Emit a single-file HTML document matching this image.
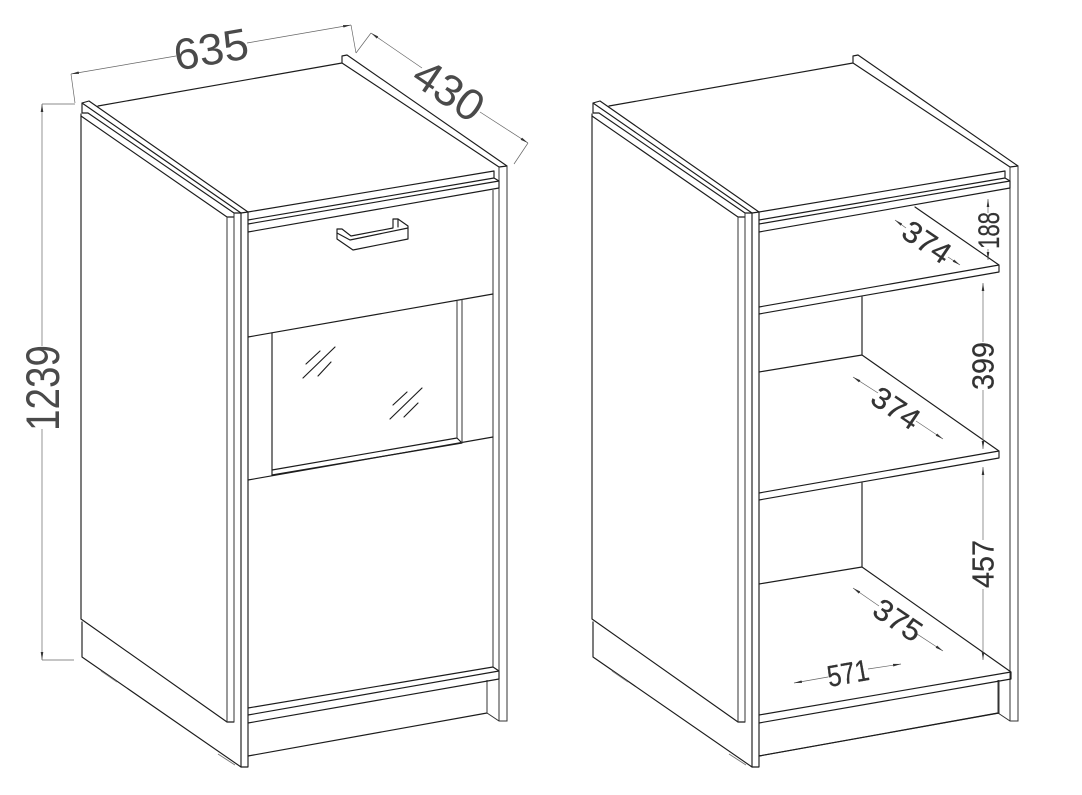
<!DOCTYPE html>
<html><head><meta charset="utf-8"><style>
html,body{margin:0;padding:0;background:#fff;width:1082px;height:795px;overflow:hidden}
svg{display:block}
.l{fill:none;stroke:#1c1c1c;stroke-width:1.15;stroke-linejoin:round;stroke-linecap:round}
.t{fill:none;stroke:#333;stroke-width:1}
.d{fill:none;stroke:#666;stroke-width:.7}
.k{fill:none;stroke:#666;stroke-width:.7}
text{font-family:"Liberation Sans",sans-serif;fill:#4a4a4a;text-anchor:middle}
text.s{fill:#333;stroke:#333;stroke-width:.25}
</style></head><body>
<svg width="1082" height="795" viewBox="0 0 1082 795" xmlns="http://www.w3.org/2000/svg">
<defs>
<marker id="a" viewBox="0 0 8 4" refX="8" refY="2" markerWidth="8" markerHeight="4" markerUnits="userSpaceOnUse" orient="auto-start-reverse"><path d="M8 2L0 0.7V3.3Z" fill="#333"/></marker>
<g id="shell">
<!-- top -->
<path class="l" d="M98 106L342 63"/>
<path class="l" d="M342 63V56L347 55L507 166L499 167L342 63"/>
<path class="l" d="M82 113V103L89 101L248 212L241 213L82 103"/>
<path class="l" d="M82 113L88 113L234 213L241 213"/>
<path class="l" d="M81 116L227 217L234 217"/>
<path class="l" d="M81 114V619L227 722H234"/>
<path class="t" d="M227 217V722M234 213V722"/>
<path class="l" d="M241 213V767H248V212"/>
<path class="t" d="M499 167V721M507 166V721H499L487 713"/>
<path class="l" d="M82 622V657L241 767"/>
<path class="l" d="M248 756L487 713"/>
<path class="t" d="M487 680V713"/>
<path fill="none" stroke="#777" stroke-width=".9" d="M101 671L117 682M218 754L235 765"/>
<!-- front strips -->
<path class="l" d="M248 212L494 171V178L499 181V188L248 232"/>
<path class="l" d="M248 220L494 178M248 224L499 181"/>
</g>
</defs>

<use href="#shell"/>
<use href="#shell" x="511"/>

<!-- left cabinet front -->
<path class="t" d="M493 190V667"/>
<path class="l" d="M248 337L493 294M248 480L493 437"/>
<path class="l" d="M272 333V475"/>
<path class="l" d="M272 470L457 438L462 443L272 475"/>
<path class="t" d="M457 301V438M462 299V443"/>
<path class="l" stroke-width=".9" d="M306 364L320 351M303 378L335 347M318 376L331 362M393 405L407 392M390 419L422 388M404 417L418 403"/>
<path class="l" d="M248 708L493 667L499 671V679L248 723M248 715L499 671"/>
<!-- handle -->
<path class="l" stroke-width="1" d="M337 229L342 229L351 236L393 228V219L398 219L408 226V239L353 250L337 239Z"/>
<path class="l" stroke-width="1" d="M337 233L350 240L408 228M398 219V227"/>

<!-- right cabinet interior -->
<path class="l" d="M915 207L999 265V272L759 314M759 307L999 265"/>
<path class="l" d="M862 297V355M759 372L862 355L999 451V458L759 500M759 493L999 451"/>
<path class="l" d="M862 483V567M759 584L862 567L1011 672V679L759 723M759 715L1011 672"/>
<path class="l" d="M759 756L999 713"/>
<path class="t" d="M999 680V713"/>

<!-- left dims -->
<path class="d" d="M71 74L75 103M351 25L356 53M371 33L356 53M528 143L514 164M42 104H75M42 660H74"/>
<path class="d" marker-start="url(#a)" d="M71 74L176 56"/>
<path class="d" marker-end="url(#a)" d="M247 43L351 25"/>
<path class="d" marker-start="url(#a)" d="M371 33L422 68"/>
<path class="d" marker-end="url(#a)" d="M480 112L528 143"/>
<path class="d" marker-start="url(#a)" d="M42 104V346"/>
<path class="d" marker-end="url(#a)" d="M42 429V660"/>
<text transform="translate(211 49) rotate(-10)" y="15.5" font-size="44" textLength="75" lengthAdjust="spacingAndGlyphs">635</text>
<text transform="translate(449 90) rotate(34)" y="15.5" font-size="44" textLength="75" lengthAdjust="spacingAndGlyphs">430</text>
<text transform="translate(42.5 388) rotate(-90)" y="16.5" font-size="47" textLength="86" lengthAdjust="spacingAndGlyphs">1239</text>

<!-- right dims -->
<path class="k" marker-start="url(#a)" d="M895 220L906 228"/>
<path class="k" marker-end="url(#a)" d="M948 257L960 265"/>
<text class="s" transform="translate(927 242) rotate(34)" y="10.5" font-size="30" textLength="52" lengthAdjust="spacingAndGlyphs">374</text>

<path class="k" marker-start="url(#a)" d="M988 199V213"/>
<path class="k" marker-end="url(#a)" d="M988 249V260"/>
<text class="s" transform="translate(988.5 230.5) rotate(-90)" y="10.5" font-size="30" textLength="37" lengthAdjust="spacingAndGlyphs">188</text>

<path class="k" marker-start="url(#a)" d="M983 283V342"/>
<path class="k" marker-end="url(#a)" d="M983 390V449"/>
<text class="s" transform="translate(983 366) rotate(-90)" y="10.5" font-size="31" textLength="48" lengthAdjust="spacingAndGlyphs">399</text>

<path class="k" marker-start="url(#a)" d="M853 377L878 393"/>
<path class="k" marker-end="url(#a)" d="M916 421L943 439"/>
<text class="s" transform="translate(896 408) rotate(34)" y="10.5" font-size="30" textLength="52" lengthAdjust="spacingAndGlyphs">374</text>

<path class="k" marker-start="url(#a)" d="M983 467V540"/>
<path class="k" marker-end="url(#a)" d="M983 589V660"/>
<text class="s" transform="translate(983 564) rotate(-90)" y="10.5" font-size="31" textLength="48" lengthAdjust="spacingAndGlyphs">457</text>

<path class="k" marker-start="url(#a)" d="M853 588L879 606"/>
<path class="k" marker-end="url(#a)" d="M917 634L943 651"/>
<text class="s" transform="translate(898 620) rotate(34)" y="10.5" font-size="30" textLength="52" lengthAdjust="spacingAndGlyphs">375</text>

<path class="k" marker-start="url(#a)" d="M794 683L828 677"/>
<path class="k" marker-end="url(#a)" d="M868 669L901 664"/>
<text class="s" transform="translate(848 673) rotate(-10)" y="10.5" font-size="30" textLength="42" lengthAdjust="spacingAndGlyphs">571</text>
</svg>
</body></html>
